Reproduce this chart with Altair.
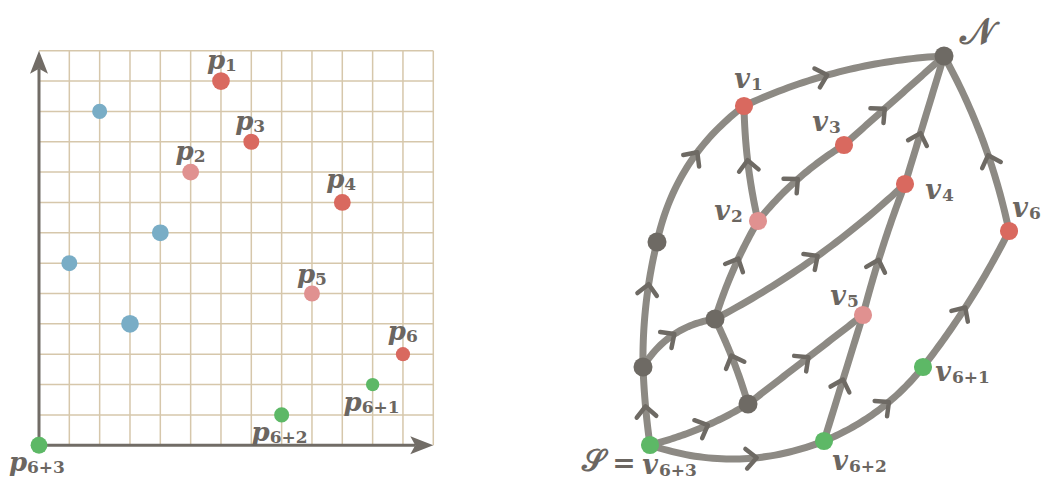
import altair as alt
import numpy as np
import pandas as pd

# ---------------- left panel: point set on a grid ----------------
grid_max = 13
blue_x = [2, 1, 4, 3]
blue_y = [11, 6, 7, 4]
p_sub = ["1", "2", "3", "4", "5", "6", "6+1", "6+2", "6+3"]
p_x = [6, 5, 7, 10, 9, 12, 11, 8, 0]
p_y = [12, 9, 10, 8, 5, 3, 2, 1, 0]
p_cat = ["red", "pink", "red", "red", "pink", "red", "green", "green", "green"]

# ---------------- right panel: directed graph ----------------
node_id = ["N", "v1", "v3", "v2", "v4", "v6", "a", "b", "v5", "c", "v61", "d", "S", "v62"]
node_x = [944, 744, 844, 758, 905, 1009, 657, 715, 863, 643, 923, 748, 650, 824]
node_y = [56, 106, 145, 221, 184, 231, 242, 319, 315, 367, 367, 404, 445, 441]
node_cat = ["dark", "red", "red", "pink", "red", "red", "dark", "dark", "pink", "dark",
            "green", "dark", "green", "green"]
node_sub = {"v1": "1", "v3": "3", "v2": "2", "v4": "4", "v6": "6", "v5": "5",
            "v61": "6+1", "v62": "6+2", "S": "6+3"}
edge_from = ["S", "c", "a", "v1", "c", "b", "v2", "v2", "v3", "b", "v4", "d", "S", "d",
             "v62", "v5", "S", "v62", "v61", "v6"]
edge_to = ["c", "a", "v1", "N", "b", "v2", "v1", "v3", "N", "v4", "N", "b", "d", "v5",
           "v5", "v4", "v62", "v61", "v6", "N"]

# ---------------- styling (positions of decorations, sizes, colours) ----------------
edge_bend = [1, 4, 15, 10, 10, 3, 3, 5, 0, -8, 0, -2, -4, 0, 0, 2, -16, -8, -4, -7]
edge_arrow_t = [0.45, 0.63, 0.58, 0.41, 0.47, 0.57, 0.5, 0.47, 0.38, 0.5, 0.37, 0.52,
                0.54, 0.5, 0.46, 0.39, 0.59, 0.58, 0.43, 0.4]
blue_d = [17, 18, 19, 20]
p_d = [20, 19, 18, 19, 18, 16, 15, 17, 19]
p_lab_off = [(-5, -20), (-6, -20), (-7, -20), (-7, -22), (-6, -19), (-6, -22),
             (-20, 18), (-21, 18), (-21, 18)]
v_lab_off = {"v1": (-2, -26), "v3": (-24, -22), "v2": (-36, -9), "v4": (28, 7),
             "v6": (11, -22), "v5": (-25, -18), "v61": (20, 6), "v62": (16, 21), "S": (0, 21)}
node_d = {"dark": 21.5}

COL = {"red": "#d9695f", "pink": "#e09190", "green": "#5db866", "blue": "#79adc6",
       "dark": "#6e6a64"}
TXT = "#6b6661"
AX = "#716c66"
GRID = "#d6c7ab"
EDGE = "#8d8a84"
SERIF = "DejaVu Serif"

# left panel geometry
LW, LH = 436, 471
ux = 30.33
uy = 30.35
lx0 = -(39 - 8) / ux
lx1 = lx0 + LW / ux
ly1 = grid_max + (50.7 - 8) / uy
ly0 = ly1 - LH / uy
xs = alt.Scale(domain=[lx0, lx1], nice=False, zero=False)
ys = alt.Scale(domain=[ly0, ly1], nice=False, zero=False)
X = lambda f: alt.X(f, type="quantitative", scale=xs, axis=None)
Y = lambda f: alt.Y(f, type="quantitative", scale=ys, axis=None)

ticks = list(range(1, grid_max + 1))
vgrid = pd.DataFrame({"x": ticks, "y0": 0, "y1": grid_max})
hgrid = pd.DataFrame({"y": ticks, "x0": 0, "x1": grid_max})
g1 = alt.Chart(vgrid).mark_rule(color=GRID, strokeWidth=1.5).encode(x=X("x"), y=Y("y0"), y2="y1")
g2 = alt.Chart(hgrid).mark_rule(color=GRID, strokeWidth=1.5).encode(y=Y("y"), x=X("x0"), x2="x1")

axes = pd.DataFrame({"x0": [0, 0], "y0": [0, 0], "x1": [grid_max - 0.6, 0], "y1": [0, grid_max - 0.6]})
ax_rule = alt.Chart(axes).mark_rule(color=AX, strokeWidth=3).encode(
    x=X("x0"), y=Y("y0"), x2="x1", y2="y1")
heads = pd.DataFrame({"x": [grid_max, 0], "y": [0, grid_max], "ang": [0, 270]})
arrow_path = "M 0 0 L -2 -0.78 L -1.57 0 L -2 0.78 Z"
ax_heads = alt.Chart(heads).mark_point(shape=arrow_path, filled=True, color=AX, opacity=1,
                                       size=529, strokeWidth=0).encode(
    x=X("x"), y=Y("y"), angle=alt.Angle("ang:Q", scale=None))

pts = pd.DataFrame({
    "x": blue_x + p_x, "y": blue_y + p_y,
    "cat": ["blue"] * len(blue_x) + p_cat,
    "size": [np.pi * (d / 2) ** 2 for d in blue_d + p_d],
})
cats = list(COL.keys())
pt_layer = alt.Chart(pts).mark_circle(opacity=1).encode(
    x=X("x"), y=Y("y"),
    color=alt.Color("cat:N", scale=alt.Scale(domain=cats, range=[COL[c] for c in cats]), legend=None),
    size=alt.Size("size:Q", scale=None))

lab = pd.DataFrame({
    "x": [px + o[0] / ux for px, o in zip(p_x, p_lab_off)],
    "y": [py - o[1] / uy for py, o in zip(p_y, p_lab_off)],
    "sub": p_sub,
})
lab["letter"] = "p"
let_layer = alt.Chart(lab).mark_text(font=SERIF, fontStyle="italic", fontWeight="bold",
                                     fontSize=26, color=TXT, clip=True,
                                     align="center", baseline="middle").encode(
    x=X("x"), y=Y("y"), text="letter:N")
sub_layer = alt.Chart(lab).mark_text(font=SERIF, fontWeight="bold", fontSize=17, color=TXT,
                                     align="left", baseline="middle", dx=9, dy=5,
                                     clip=True).encode(
    x=X("x"), y=Y("y"), text="sub:N")

left = alt.layer(g1, g2, ax_rule, ax_heads, pt_layer, let_layer, sub_layer).properties(
    width=LW, height=LH)

# ---------------- right panel ----------------
RX0 = 8 + LW + 10
RX1 = 1041
RW, RH = RX1 - RX0, LH
rxs = alt.Scale(domain=[RX0, RX1], nice=False, zero=False)
rys = alt.Scale(domain=[8, 8 + RH], nice=False, zero=False, reverse=True)
RXe = lambda f: alt.X(f, type="quantitative", scale=rxs, axis=None)
RYe = lambda f: alt.Y(f, type="quantitative", scale=rys, axis=None)

pos = {n: (x, y) for n, x, y in zip(node_id, node_x, node_y)}
rows, arrows = [], []
ts = np.linspace(0, 1, 40)
for i, (a, b) in enumerate(zip(edge_from, edge_to)):
    P = np.array(pos[a], float)
    Q = np.array(pos[b], float)
    d = Q - P
    n = np.array([d[1], -d[0]]) / np.hypot(*d)
    C = (P + Q) / 2 + 2 * edge_bend[i] * n
    for k, t in enumerate(ts):
        pt = (1 - t) ** 2 * P + 2 * (1 - t) * t * C + t ** 2 * Q
        rows.append({"e": i, "k": k, "x": pt[0], "y": pt[1]})
    t = edge_arrow_t[i]
    pt = (1 - t) ** 2 * P + 2 * (1 - t) * t * C + t ** 2 * Q
    tan = 2 * (1 - t) * (C - P) + 2 * t * (Q - C)
    ang = np.degrees(np.arctan2(tan[1], tan[0])) % 360
    arrows.append({"x": pt[0], "y": pt[1], "ang": ang})
edges = pd.DataFrame(rows)
arrows = pd.DataFrame(arrows)

edge_layer = alt.Chart(edges).mark_line(color=EDGE, strokeWidth=7, strokeCap="round").encode(
    x=RXe("x"), y=RYe("y"), detail="e:N", order="k:Q")
chev = "M -0.55 -0.8 L 0.3 0 L -0.55 0.8"
arrow_layer = alt.Chart(arrows).mark_point(shape=chev, filled=False, color="#6e6a64", opacity=1,
                                           size=600, strokeWidth=4.5, strokeCap="round",
                                           strokeJoin="round").encode(
    x=RXe("x"), y=RYe("y"), angle=alt.Angle("ang:Q", scale=None))

nodes = pd.DataFrame({"x": node_x, "y": node_y, "cat": node_cat})
nodes["size"] = [np.pi * (node_d.get(c, 20.5) / 2) ** 2 for c in node_cat]
node_layer = alt.Chart(nodes).mark_circle(opacity=1).encode(
    x=RXe("x"), y=RYe("y"), size=alt.Size("size:Q", scale=None),
    color=alt.Color("cat:N", scale=alt.Scale(domain=cats, range=[COL[c] for c in cats]), legend=None))

vl = pd.DataFrame({
    "x": [pos[k][0] + v_lab_off[k][0] for k in node_sub],
    "y": [pos[k][1] + v_lab_off[k][1] for k in node_sub],
    "sub": list(node_sub.values()),
})
vl["letter"] = "v"
vlet = alt.Chart(vl).mark_text(font=SERIF, fontStyle="italic", fontWeight="bold", fontSize=27,
                               color=TXT, align="center", baseline="middle", clip=True).encode(
    x=RXe("x"), y=RYe("y"), text="letter:N")
vsub = alt.Chart(vl).mark_text(font=SERIF, fontWeight="bold", fontSize=17, color=TXT,
                               align="left", baseline="middle", dx=9, dy=5, clip=True).encode(
    x=RXe("x"), y=RYe("y"), text="sub:N")

script = pd.DataFrame({
    "x": [pos["N"][0] + 33, pos["S"][0] - 57, pos["S"][0] - 26],
    "y": [pos["N"][1] - 23, pos["S"][1] + 17, pos["S"][1] + 19],
    "t": ["\U0001D4A9", "\U0001D4AE", "="],
    "fs": [36, 30, 28],
})
script_layer = alt.Chart(script).mark_text(font=SERIF, fontWeight="bold", color=TXT, clip=True,
                                           align="center", baseline="middle").encode(
    x=RXe("x"), y=RYe("y"), text="t:N", size=alt.Size("fs:Q", scale=None))

right = alt.layer(edge_layer, arrow_layer, node_layer, vlet, vsub, script_layer).properties(
    width=RW, height=RH)

chart = alt.hconcat(left, right, spacing=10).properties(padding=0).configure(
    background="white", view=alt.ViewConfig(stroke=None))

chart.save("out.html", embed_options={"renderer": "svg", "actions": False})
